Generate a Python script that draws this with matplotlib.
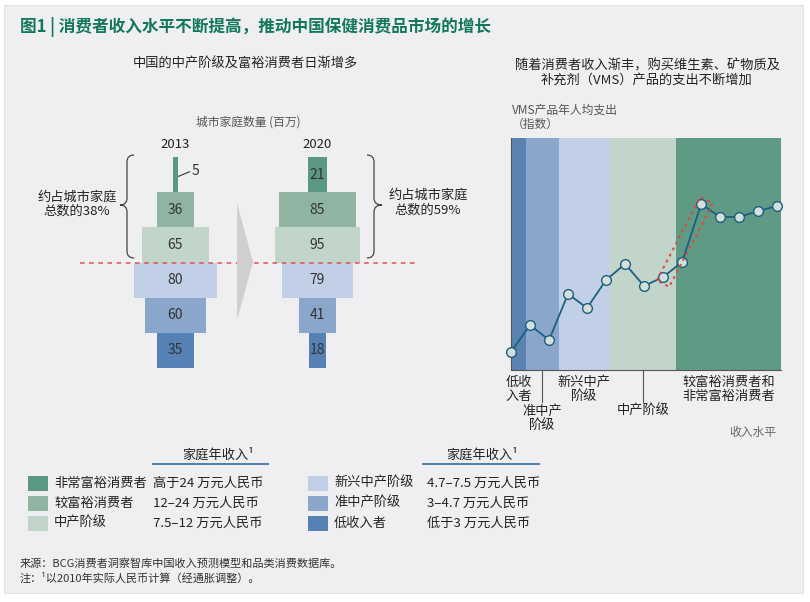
import matplotlib
matplotlib.use("Agg")
import matplotlib.pyplot as plt
from matplotlib.patches import Rectangle, Polygon, PathPatch
from matplotlib.path import Path
import matplotlib.transforms as mtransforms
import numpy as np

plt.rcParams['font.family'] = ['Noto Sans CJK SC', 'DejaVu Sans']

# ---------------- data ----------------
segments = ["非常富裕消费者", "较富裕消费者", "中产阶级", "新兴中产阶级", "准中产阶级", "低收入者"]
incomes = ["高于24 万元人民币", "12–24 万元人民币", "7.5–12 万元人民币",
           "4.7–7.5 万元人民币", "3–4.7 万元人民币", "低于3 万元人民币"]
seg_colors = ["#5b9883", "#8fb4a2", "#c2d5cb", "#c1d0e6", "#8ba6cb", "#5581b4"]
households_2013 = [5, 36, 65, 80, 60, 35]
households_2020 = [21, 85, 95, 79, 41, 18]
years = ["2013", "2020"]

vms_index = [18, 45, 30, 76, 62, 90, 106, 84, 93, 108, 166, 153, 153, 159, 164]
band_edges = [0, 0.8, 2.5, 5.2, 8.7, 14.2]
band_colors = ["#5b83b1", "#8ba6cb", "#c1d0e6", "#c2d5cb", "#5e9a84"]
band_labels = ["低收\n入者", "准中产\n阶级", "新兴中产\n阶级", "中产阶级", "较富裕消费者和\n非常富裕消费者"]

W, H = 810, 602
fig = plt.figure(figsize=(W / 100, H / 100), dpi=100)
fig.patch.set_facecolor("white")


def px_axes(x0, y0, x1, y1, **kw):
    return fig.add_axes([x0 / W, 1 - y1 / H, (x1 - x0) / W, (y1 - y0) / H], **kw)


def ftext(x, y, s, **kw):
    return fig.text(x / W, 1 - y / H, s, **kw)


# panel background
fig.patches.append(Rectangle((4 / W, 1 - 593 / H), 799 / W, 588 / H, transform=fig.transFigure,
                             facecolor="#efeff1", edgecolor="#e2e2e4", lw=0.8, zorder=-10))

# ---------------- titles ----------------
ftext(20, 27, "图1 | 消费者收入水平不断提高，推动中国保健消费品市场的增长", fontsize=12,
      fontweight="bold", color="#13785a", va="center", ha="left")
ftext(245, 64, "中国的中产阶级及富裕消费者日渐增多", fontsize=9.5, color="#222222",
      ha="center", va="center")
ftext(647, 73, "随着消费者收入渐丰，购买维生素、矿物质及\n补充剂（VMS）产品的支出不断增加", fontsize=9.5,
      color="#222222", ha="center", va="center", linespacing=1.15)

# ---------------- pyramids ----------------
row_top, row_bot = 157, 368
scales = [1.03, 0.9]
centers = [175.5, 317.5]
for vals, yr, sc, cx in zip([households_2013, households_2020], years, scales, centers):
    half = 80
    ax = px_axes(cx - half, row_top, cx + half, row_bot)
    ax.set_xlim(-half / sc, half / sc)
    ax.set_ylim(len(vals) - 0.5, -0.5)
    ax.axis("off")
    ax.patch.set_alpha(0)
    idx = np.arange(len(vals))
    ax.barh(idx, vals, left=[-v / 2 for v in vals], height=1.0, color=seg_colors, edgecolor="none")
    for i, v in enumerate(vals):
        if v < 10:
            ax.plot([v / 2 + 0.5, v / 2 + 11], [i + 0.05, i - 0.08], color="#333333", lw=0.8)
            ax.text(v / 2 + 13, i - 0.1, str(v), ha="left", va="center", fontsize=10, color="#333333")
        else:
            ax.text(0, i, str(v), ha="center", va="center", fontsize=10, color="#333333")
    ftext(cx, 144, yr, ha="center", va="center", fontsize=9.5, color="#222222")

ftext(248, 122, "城市家庭数量 (百万)", ha="center", va="center", fontsize=8.5, color="#555555")

# overlay for decorations
ov = fig.add_axes([0, 0, 1, 1])
ov.set_xlim(0, W)
ov.set_ylim(H, 0)
ov.axis("off")
ov.patch.set_alpha(0)
ov.set_zorder(5)

ov.plot([80, 418], [263, 263], color="#e0524a", lw=1.1, ls=(0, (3, 3)), zorder=1)
ov.add_patch(Polygon([(237, 203), (253, 262), (237, 320)], closed=True, facecolor="#cfcfd2",
                     edgecolor="none", zorder=2))


def brace(xe, xs, xt, yt, ym, yb, r=7):
    verts = [(xe, yt), (xs, yt), (xs, yt + r), (xs, ym - r), (xs, ym), (xt, ym),
             (xs, ym), (xs, ym + r), (xs, yb - r), (xs, yb), (xe, yb)]
    codes = [Path.MOVETO, Path.CURVE3, Path.CURVE3, Path.LINETO, Path.CURVE3, Path.CURVE3,
             Path.CURVE3, Path.CURVE3, Path.LINETO, Path.CURVE3, Path.CURVE3]
    ov.add_patch(PathPatch(Path(verts, codes), facecolor="none", edgecolor="#444444", lw=0.9))


brace(134, 127, 120, 155, 205, 258)
brace(367, 374, 382, 155, 205, 258)
ftext(77, 204, "约占城市家庭\n总数的38%", ha="center", va="center", fontsize=9.5, color="#222222",
      linespacing=1.15)
ftext(428, 203, "约占城市家庭\n总数的59%", ha="center", va="center", fontsize=9.5, color="#222222",
      linespacing=1.15)

# ---------------- VMS line chart ----------------
ax2 = px_axes(511, 138, 781, 370)
ax2.set_zorder(3)
ax2.set_xlim(band_edges[0], band_edges[-1])
ax2.set_ylim(0, 232)
for i in range(len(band_colors)):
    ax2.axvspan(band_edges[i], band_edges[i + 1], color=band_colors[i], lw=0, zorder=0)
xs = np.arange(len(vms_index))
ax2.plot(xs, vms_index, color="#1c5f80", lw=1.3, marker="o", ms=7, mfc="#d3dfda", mec="#1c5f80",
         mew=1.0, zorder=4, clip_on=False)
for s in ["top", "right"]:
    ax2.spines[s].set_visible(False)
for s in ["left", "bottom"]:
    ax2.spines[s].set_color("#555555")
    ax2.spines[s].set_linewidth(0.8)
ax2.set_xticks([])
ax2.set_yticks([])

# red dotted highlight around the jump (points 9 -> 11)
fig.canvas.draw()
p_a = ax2.transData.transform((xs[8], vms_index[8]))
p_b = ax2.transData.transform((xs[10], vms_index[10]))
d = (p_b - p_a) / np.linalg.norm(p_b - p_a)
n = np.array([d[1], -d[0]])
if n[0] < 0:
    n = -n
c_off = n * 3.0
hw, ext = 7.0, 6.0
a0 = p_a - d * ext + c_off
b0 = p_b + d * ext + c_off
poly_disp = [a0 - n * hw, b0 - n * hw, b0 + n * hw, a0 + n * hw]
poly_data = ax2.transData.inverted().transform(poly_disp)
ax2.add_patch(Polygon(poly_data, closed=True, facecolor="none", edgecolor="#e0473c", lw=1.4,
                      ls=(0, (1.5, 2)), zorder=5, joinstyle="round"))

trans = mtransforms.blended_transform_factory(ax2.transData, ax2.transAxes)
centers_b = [(band_edges[i] + band_edges[i + 1]) / 2 for i in range(len(band_labels))]
label_top = [376, 405, 376, 405, 376]
for i, (lab, cxb, yt) in enumerate(zip(band_labels, centers_b, label_top)):
    ax2.text(cxb, (370 - yt) / 232, lab, transform=trans, ha="center", va="top", fontsize=9.5,
             color="#222222", linespacing=1.1, clip_on=False)
    if yt > 390:
        ax2.plot([cxb, cxb], [0, -(402 - 370) / 232], transform=trans, color="#555555", lw=0.8,
                 clip_on=False)

ftext(512, 117, "VMS产品年人均支出\n（指数）", ha="left", va="center", fontsize=8.5, color="#555555",
      linespacing=1.1)
ftext(776, 432, "收入水平", ha="right", va="center", fontsize=8.5, color="#666666")

# ---------------- legend ----------------
for hx, (u0, u1) in zip([218, 482], [(153, 268), (423, 539)]):
    ftext(hx, 455, "家庭年收入¹", ha="center", va="center", fontsize=9.5, color="#222222")
    ov.plot([u0, u1], [464, 464], color="#4a7fb0", lw=1.4)

row_y = [483, 503, 523]
for k in range(6):
    col = k // 3
    r = k % 3
    sx = [28, 308][col]
    ov.add_patch(Rectangle((sx, row_y[r] - 7.5), 20, 15, facecolor=seg_colors[k], edgecolor="none"))
    ftext([54, 334][col], row_y[r], segments[k], ha="left", va="center", fontsize=9.5, color="#222222")
    ftext([153, 427][col], row_y[r], incomes[k], ha="left", va="center", fontsize=9.5, color="#222222")

ftext(20, 564, "来源：BCG消费者洞察智库中国收入预测模型和品类消费数据库。", ha="left", va="center",
      fontsize=8, color="#333333")
ftext(20, 578, "注：¹以2010年实际人民币计算（经通胀调整）。", ha="left", va="center",
      fontsize=8, color="#333333")

fig.savefig("out.png", dpi=100, facecolor=fig.get_facecolor())
